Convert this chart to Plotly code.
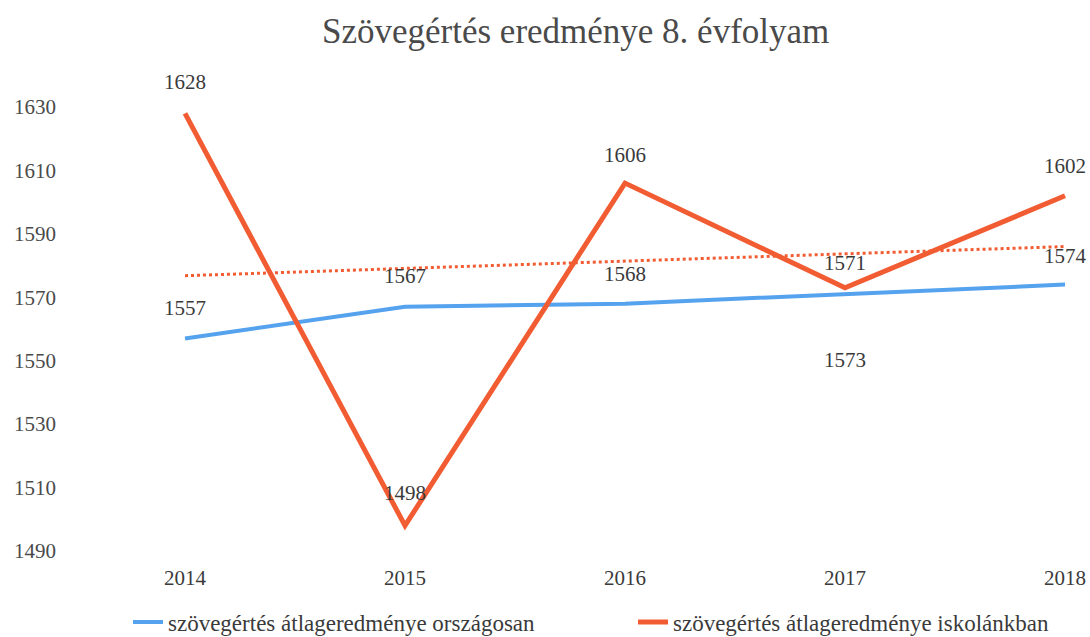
import numpy as np
import plotly.graph_objects as go

years = ["2014", "2015", "2016", "2017", "2018"]
national = [1557, 1567, 1568, 1571, 1574]
school = [1628, 1498, 1606, 1573, 1602]
y_ticks = [1490, 1510, 1530, 1550, 1570, 1590, 1610, 1630]
name_national = "szövegértés átlageredménye országosan"
name_school = "szövegértés átlageredménye iskolánkban"
title_text = "Szövegértés eredménye 8. évfolyam"

BLUE = "#55A2EE"
ORANGE = "#F25C32"
FONT = "Liberation Serif"
TXT = "#3a3a3a"

x = np.arange(len(years))
coef = np.polyfit(x, school, 1)
trend = np.polyval(coef, x)

fig = go.Figure()
fig.add_trace(go.Scatter(x=x, y=national, mode="lines", name=name_national,
                         legend="legend", line=dict(color=BLUE, width=4)))
fig.add_trace(go.Scatter(x=x, y=school, mode="lines", name=name_school,
                         legend="legend2", line=dict(color=ORANGE, width=5)))
fig.add_trace(go.Scatter(x=x, y=trend, mode="lines", showlegend=False,
                         line=dict(color=ORANGE, width=3, dash="dot")))

# data labels
shifts_nat = [31, 31, 30, 31, 29]
shifts_sch = [31, 33, 28, -72, 30]
for i in range(len(years)):
    fig.add_annotation(x=x[i], y=national[i], text=str(national[i]), showarrow=False,
                       yshift=shifts_nat[i], font=dict(family=FONT, size=21, color=TXT))
    fig.add_annotation(x=x[i], y=school[i], text=str(school[i]), showarrow=False,
                       yshift=shifts_sch[i], font=dict(family=FONT, size=21, color=TXT))

L, T, B = 57, 60, 74
W, H = 1090, 637
x0 = -(185 - L) / 220
x1 = 4 + (W - 1065) / 220
px_per = (551 - 107) / 140
y1 = 1630 + (107 - T) / px_per
y0 = 1490 - ((H - B) - 551) / px_per

fig.add_annotation(text=title_text, xref="paper", yref="paper",
                   x=(575 - L) / (W - L), y=1, yshift=(T - 31), showarrow=False,
                   xanchor="center", yanchor="middle",
                   font=dict(family=FONT, size=35, color="#4a4a4a"))

leg_common = dict(orientation="h", xref="container", yref="container",
                  xanchor="left", yanchor="middle", y=1 - 622 / H,
                  bgcolor="rgba(0,0,0,0)",
                  font=dict(family=FONT, size=23, color=TXT))

fig.update_layout(
    width=W, height=H,
    margin=dict(l=L, r=0, t=T, b=B),
    paper_bgcolor="white", plot_bgcolor="white",
    font=dict(family=FONT, color=TXT),
    xaxis=dict(range=[x0, x1], tickmode="array", tickvals=x, ticktext=years,
               showgrid=False, zeroline=False, showline=False, ticks="",
               tickfont=dict(size=21, color=TXT)),
    yaxis=dict(range=[y0, y1], tickmode="array", tickvals=y_ticks,
               showgrid=False, zeroline=False, showline=False, ticks="",
               tickfont=dict(size=21, color="#4a4a4a")),
    legend=dict(x=128 / W, **leg_common),
    legend2=dict(x=633 / W, **leg_common),
    showlegend=True,
)

fig.write_html("out.html", config={"displayModeBar": False},
               post_script="document.body.style.margin='0';document.body.style.overflow='hidden';")
